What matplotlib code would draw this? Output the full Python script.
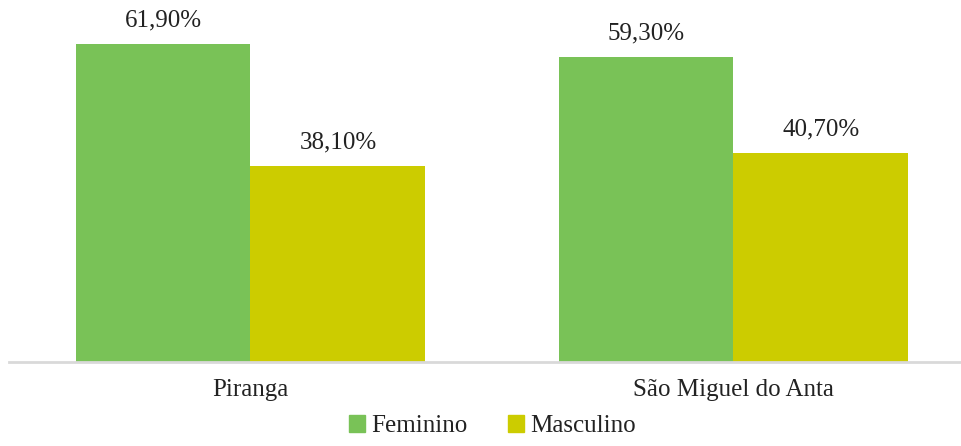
import numpy as np
import matplotlib.pyplot as plt
from matplotlib.patches import Patch

# dados
municipios = ['Piranga', 'São Miguel do Anta']
feminino = [61.9, 59.3]
masculino = [38.1, 40.7]
series = ['Feminino', 'Masculino']
cores = ['#79c257', '#cccc00']

plt.rcParams['font.family'] = ['Liberation Serif', 'DejaVu Serif']

fig = plt.figure(figsize=(9.62, 4.46), dpi=100)
ax = fig.add_axes([9 / 962, 84 / 446, 966 / 962, 360 / 446])

x = np.arange(len(municipios))
w = 0.362
b1 = ax.bar(x - w / 2, feminino, w, color=cores[0])
b2 = ax.bar(x + w / 2, masculino, w, color=cores[1])

for bars, vals in ((b1, feminino), (b2, masculino)):
    for b, v in zip(bars, vals):
        ax.annotate(f'{v:.2f}%'.replace('.', ','),
                    (b.get_x() + b.get_width() / 2, v),
                    xytext=(0, 9), textcoords='offset points',
                    ha='center', va='bottom', fontsize=18, color='#222222')

ax.set_xlim(-0.5, 1.5)
ax.set_ylim(0, 70)
ax.set_xticks(x)
ax.set_xticklabels(municipios, fontsize=18, color='#222222')
ax.tick_params(axis='x', length=0, pad=12)
ax.set_yticks([])
for s in ['top', 'right', 'left']:
    ax.spines[s].set_visible(False)
ax.spines['bottom'].set_color('#d9d9d9')
ax.spines['bottom'].set_linewidth(2)

handles = [Patch(color=c, label=s) for c, s in zip(cores, series)]
fig.legend(handles=handles, loc='lower center', bbox_to_anchor=(0.512, -0.008),
           ncol=2, frameon=False, fontsize=18, handlelength=0.65,
           handleheight=0.65, handletextpad=0.25, columnspacing=1.6,
           labelcolor='#222222', borderpad=0.0)

plt.savefig('out.png', dpi=100)
